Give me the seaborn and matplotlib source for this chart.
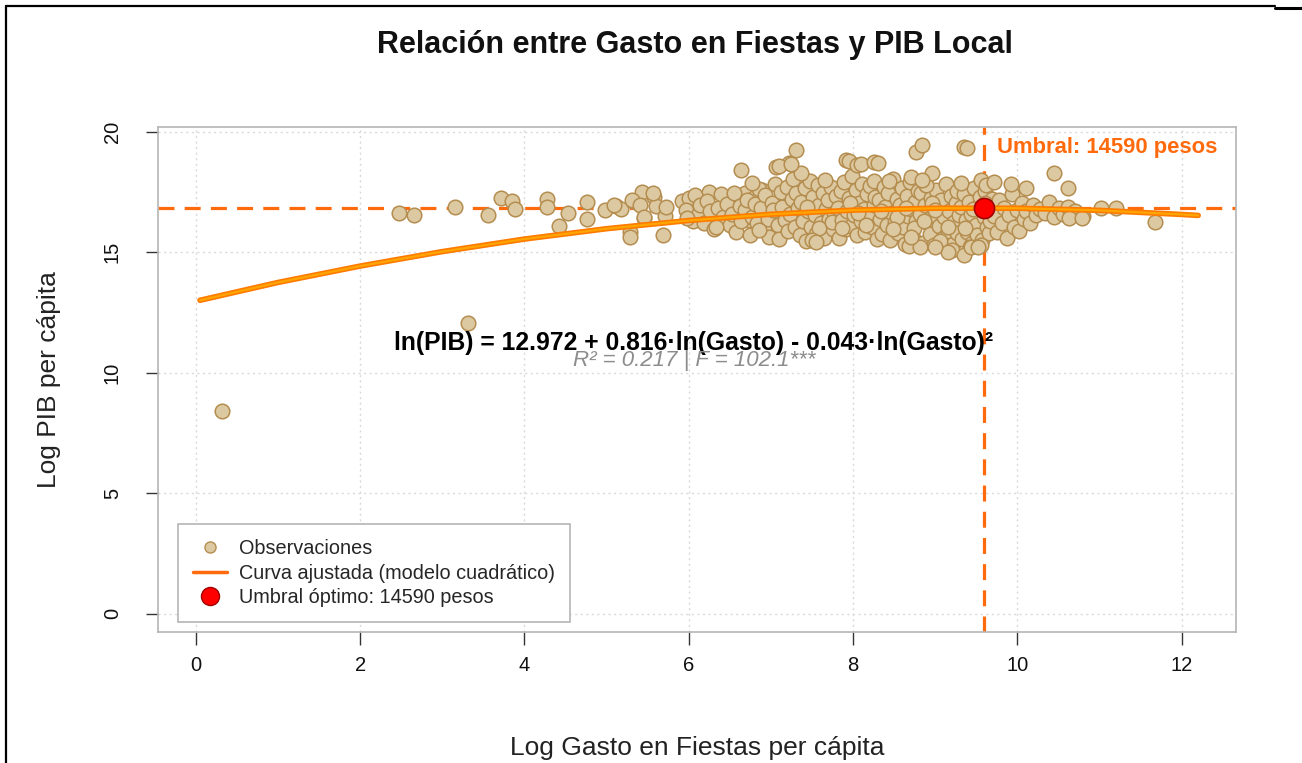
import numpy as np
import pandas as pd
import seaborn as sns
import matplotlib.pyplot as plt
from matplotlib.lines import Line2D

# Observations read off the chart (log gasto, log PIB)
# sparse left part
gasto_sparse = [0.32, 3.31, 2.47, 2.66, 3.15, 3.55, 3.71, 3.85, 3.88, 4.27,
                4.27, 4.42, 4.53, 4.76, 4.76, 4.98, 5.11, 5.17, 5.28, 5.32,
                5.43, 5.45, 5.58, 5.60, 5.68, 5.71, 5.92, 6.00, 6.05]
pib_sparse = [8.42, 12.05, 16.64, 16.55, 16.87, 16.55, 17.27, 17.13, 16.81, 17.21,
              16.87, 16.09, 16.64, 17.08, 16.37, 16.77, 16.91, 16.81, 15.84, 17.11,
              17.51, 16.44, 17.31, 16.91, 15.71, 16.51, 17.11, 17.24, 16.31]

gasto_lo = [5.09, 5.31, 5.57, 5.41, 5.45, 5.72, 5.29, 5.96, 6.12, 5.98,
            6.28, 6.45, 6.57, 6.61, 6.69, 6.81, 6.89, 6.73, 6.49, 6.57,
            6.94, 7.01, 6.24, 6.08]
pib_lo = [16.97, 17.18, 17.47, 16.97, 16.47, 16.89, 15.64, 16.76, 16.64, 16.43,
          16.56, 16.97, 17.10, 16.68, 17.47, 17.30, 17.59, 16.35, 16.35, 16.22,
          16.06, 16.64, 17.51, 17.39]

# dense cloud, one line per band of log gasto
gasto_cloud = [
    6.14, 6.18, 6.22, 6.26, 6.31, 6.35, 6.39, 6.42, 6.46, 6.50,
    6.52, 6.55, 6.58, 6.62, 6.64, 6.68, 6.71, 6.74, 6.77, 6.80, 6.83, 6.86, 6.88, 6.91,
    6.93, 6.96, 6.98, 7.01, 7.03, 7.05, 7.08, 7.10, 7.12, 7.14, 7.17, 7.19, 7.21, 7.23, 7.25, 7.27, 7.29, 7.31, 7.33, 7.35,
    7.37, 7.39, 7.41, 7.43, 7.45, 7.47, 7.49, 7.51, 7.53, 7.55, 7.57, 7.59, 7.61, 7.63, 7.65, 7.67, 7.69, 7.71, 7.73, 7.75, 7.77, 7.79, 7.44, 7.58, 7.66, 7.74,
    7.81, 7.83, 7.85, 7.87, 7.89, 7.91, 7.93, 7.95, 7.97, 7.99, 8.01, 8.03, 8.05, 8.07, 8.09, 8.11, 8.13, 8.15, 8.17, 8.19, 8.21, 8.23, 8.25, 8.27, 8.29, 7.86, 7.96, 8.06, 8.16, 8.26,
    8.31, 8.33, 8.35, 8.37, 8.39, 8.41, 8.43, 8.45, 8.47, 8.49, 8.51, 8.53, 8.55, 8.57, 8.59, 8.61, 8.63, 8.65, 8.67, 8.69, 8.71, 8.73, 8.75, 8.77, 8.79, 8.34, 8.44, 8.54, 8.64, 8.74, 8.48, 8.68,
    8.81, 8.83, 8.85, 8.87, 8.89, 8.91, 8.93, 8.95, 8.97, 8.99, 9.01, 9.03, 9.05, 9.07, 9.09, 9.11, 9.13, 9.15, 9.17, 9.19, 9.21, 9.23, 9.25, 9.27, 9.29, 8.86, 8.96, 9.06, 9.16, 9.26, 9.00, 9.20,
    9.31, 9.33, 9.35, 9.37, 9.39, 9.41, 9.43, 9.45, 9.47, 9.49, 9.51, 9.53, 9.55, 9.57, 9.59, 9.61, 9.63, 9.65, 9.67, 9.69, 9.36, 9.46, 9.56, 9.66, 9.42, 9.60,
    9.72, 9.75, 9.78, 9.81, 9.84, 9.87, 9.90, 9.93, 9.96, 9.99, 10.02, 10.05, 10.08, 10.11, 10.15, 10.19, 10.23, 10.27,
    10.33, 10.38, 10.44, 10.50, 10.56, 10.62, 10.70, 10.80,
]
pib_cloud = [
    16.95, 16.22, 17.12, 16.70, 15.98, 16.85, 17.40, 16.48, 17.02, 16.15,
    16.60, 17.45, 15.85, 16.92, 16.30, 16.75, 17.18, 15.70, 16.45, 17.02, 16.20, 17.62, 16.85, 15.95,
    17.38, 16.40, 15.62, 17.05, 16.75, 17.85, 16.15, 15.55, 17.50, 16.90, 16.35, 17.72, 15.90, 16.60, 17.20, 18.05, 16.05, 17.45, 16.85, 15.70,
    17.10, 16.30, 17.65, 15.45, 16.70, 17.95, 16.05, 17.30, 16.55, 15.75, 17.80, 16.95, 16.20, 17.45, 15.60, 16.80, 17.15, 16.40, 17.70, 15.95, 16.65, 17.35, 16.90, 16.00, 17.98, 16.25,
    16.85, 15.60, 17.55, 16.35, 17.90, 15.95, 16.70, 17.25, 16.10, 18.15, 16.55, 17.60, 15.70, 17.05, 16.30, 17.85, 16.80, 15.85, 17.40, 16.45, 17.75, 16.05, 16.95, 17.30, 15.55, 16.00, 17.05, 16.65, 16.15, 17.95,
    17.15, 16.40, 15.75, 17.70, 16.90, 16.15, 17.45, 15.50, 16.65, 18.05, 16.25, 17.20, 15.80, 16.95, 17.65, 16.05, 15.35, 17.35, 16.50, 17.90, 16.80, 15.60, 17.10, 16.30, 17.55, 16.70, 17.95, 16.45, 16.85, 16.00, 15.95, 15.25,
    16.60, 17.45, 15.40, 16.95, 17.80, 16.20, 15.75, 17.25, 16.55, 15.30, 17.60, 16.85, 16.10, 17.15, 15.60, 16.45, 17.85, 15.90, 16.70, 17.35, 15.35, 16.25, 17.05, 15.80, 16.55, 16.30, 17.05, 15.45, 16.05, 17.55, 16.75, 15.10,
    16.90, 15.55, 17.40, 16.35, 15.85, 17.10, 16.60, 15.40, 17.65, 16.15, 15.70, 16.95, 17.30, 15.50, 16.45, 17.55, 16.05, 15.80, 16.75, 17.20, 16.00, 16.80, 15.30, 16.30, 15.20, 17.05,
    16.50, 15.85, 17.15, 16.20, 16.85, 15.60, 16.55, 17.40, 16.05, 16.75, 15.90, 17.05, 16.40, 16.70, 16.20, 16.95, 16.55, 16.80,
    16.65, 17.10, 16.45, 16.85, 16.60, 16.90, 16.70, 16.50,
]

# points sticking out of the cloud (top / bottom / right)
gasto_tail = [6.63, 6.77, 7.06, 7.22, 7.30, 7.36, 7.10, 7.24, 7.91, 7.95,
              8.05, 8.09, 8.25, 8.30, 8.70, 8.76, 8.84, 8.89, 8.96, 8.84,
              9.35, 9.39, 9.31, 9.56, 9.62, 9.71, 9.92, 10.10, 10.44, 10.61,
              11.02, 11.20, 10.63, 10.78, 11.68, 9.35, 9.43, 9.52, 9.15, 9.00,
              8.82, 8.71, 7.50, 7.55, 6.85, 6.33]
pib_tail = [18.42, 17.88, 18.55, 18.71, 19.24, 18.30, 18.58, 18.65, 18.84, 18.79,
            18.63, 18.65, 18.76, 18.72, 18.13, 19.17, 19.46, 17.80, 18.30, 18.01,
            19.38, 19.33, 17.88, 18.01, 17.80, 17.93, 17.82, 17.67, 18.27, 17.67,
            16.85, 16.85, 16.41, 16.41, 16.27, 14.90, 15.23, 15.22, 15.02, 15.20,
            15.23, 15.64, 15.52, 15.43, 15.93, 16.05]

# fitted quadratic curve
curva_x = [0.05, 1, 2, 3, 4, 5, 6, 7, 8, 9, 10, 11, 12, 12.2]
curva_y = [13.01, 13.75, 14.43, 15.03, 15.55, 15.98, 16.32, 16.58, 16.75, 16.83,
           16.83, 16.74, 16.57, 16.53]

umbral_gasto = 9.588   # ln(14590)
umbral_pib = 16.843
x_ticks = [0, 2, 4, 6, 8, 10, 12]
y_ticks = [0, 5, 10, 15, 20]

df = pd.DataFrame({
    'gasto': gasto_sparse + gasto_lo + gasto_cloud + gasto_tail,
    'pib': pib_sparse + pib_lo + pib_cloud + pib_tail,
})
curva = pd.DataFrame({'x': curva_x, 'y': curva_y})

sns.set_theme(style='white')
plt.rcParams['font.family'] = ['Liberation Sans', 'DejaVu Sans']

fig = plt.figure(figsize=(13.02, 7.63), dpi=100)
ax = fig.add_axes([0.1214, 0.1717, 0.8279, 0.6619])

orange = '#FF6A0D'
ax.axhline(umbral_pib, color=orange, lw=2.3, ls=(0, (5, 3.2)), zorder=1)
ax.axvline(umbral_gasto, color=orange, lw=2.3, ls=(0, (5, 3.2)), zorder=1)

sns.scatterplot(data=df, x='gasto', y='pib', ax=ax, s=110, color='#DCC9A1',
                edgecolor='#B48D4F', linewidth=1.1, zorder=2, legend=False)

sns.lineplot(data=curva, x='x', y='y', ax=ax, color='#FF7A00', lw=4, zorder=3,
             sort=True, estimator=None)
sns.lineplot(data=curva, x='x', y='y', ax=ax, color='#FFA500', lw=1.6, zorder=3,
             sort=True, estimator=None)

ax.scatter([umbral_gasto], [umbral_pib], s=210, color='#FF0000',
           edgecolor='#A00000', linewidth=1.2, zorder=4)

ax.text(umbral_gasto + 0.16, 19.35, 'Umbral: 14590 pesos', color=orange,
        fontsize=15.8, fontweight='bold', ha='left', va='center')
ax.text(6.06, 11.25, 'ln(PIB) = 12.972 + 0.816·ln(Gasto) - 0.043·ln(Gasto)²',
        fontsize=17.8, fontweight='bold', ha='center', va='center', color='black', zorder=5)
ax.text(6.06, 10.5, 'R² = 0.217 | F = 102.1***', fontsize=16, fontstyle='italic',
        ha='center', va='center', color='#8C8C8C', zorder=5)

ax.set_xlim(-0.46, 12.66)
ax.set_ylim(-0.75, 20.2)
ax.set_xticks(x_ticks)
ax.set_yticks(y_ticks)
ax.set_yticklabels([str(t) for t in y_ticks], rotation=90, va='center')
ax.grid(True, color='#D9D9D9', linestyle=(0, (1.5, 2.5)), lw=1)
ax.set_axisbelow(True)
for sp in ax.spines.values():
    sp.set_color('#B5B5B5')
    sp.set_linewidth(1.2)
ax.tick_params(axis='both', direction='out', length=9, width=1, color='#333333',
               labelsize=14.5, labelcolor='#111111', bottom=True, left=True)
ax.tick_params(axis='x', pad=8)
ax.tick_params(axis='y', pad=17)

fig.text(0.534, 1 - 45 / 763, 'Relación entre Gasto en Fiestas y PIB Local',
         fontsize=22, fontweight='bold', ha='center', va='center', color='#111111')
ax.set_xlabel('Log Gasto en Fiestas per cápita', fontsize=19, labelpad=44, color='#222222')
ax.set_ylabel('Log PIB per cápita', fontsize=19, labelpad=30, color='#222222')

handles = [
    Line2D([], [], marker='o', ls='none', markersize=8, markerfacecolor='#DCC9A1',
           markeredgecolor='#B48D4F'),
    Line2D([], [], color='#FF6A0D', lw=2.5),
    Line2D([], [], marker='o', ls='none', markersize=13, markerfacecolor='#FF0000',
           markeredgecolor='#A00000'),
]
labels = ['Observaciones', 'Curva ajustada (modelo cuadrático)',
          'Umbral óptimo: 14590 pesos']
leg = ax.legend(handles, labels, loc='lower left', bbox_to_anchor=(0.0186, 0.0198),
                borderaxespad=0, fontsize=14.3, frameon=True, fancybox=False,
                edgecolor='#B5B5B5', framealpha=1, handlelength=1.7,
                labelspacing=0.28, borderpad=0.75, handletextpad=0.6)
leg.get_frame().set_linewidth(1.2)

# outer frame lines of the screenshot
fig.add_artist(Line2D([0.0046, 0.0046], [0, 1 - 6 / 763], transform=fig.transFigure,
                      color='black', lw=1.6))
fig.add_artist(Line2D([0.0046, 0.979], [1 - 6 / 763, 1 - 6 / 763],
                      transform=fig.transFigure, color='black', lw=1.6))
fig.add_artist(Line2D([0.979, 1.0], [1 - 8 / 763, 1 - 8 / 763],
                      transform=fig.transFigure, color='black', lw=2.2))

fig.savefig('out.png', dpi=100)
